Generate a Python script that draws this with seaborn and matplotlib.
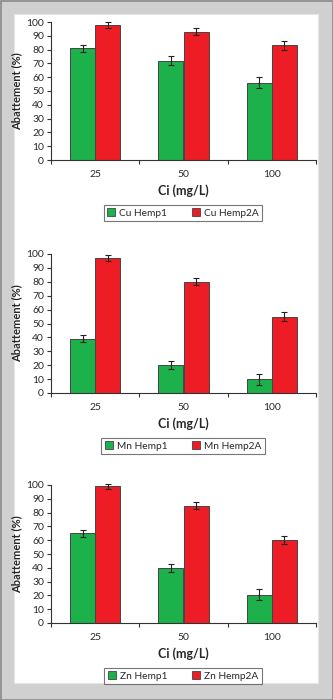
import numpy as np
import pandas as pd
import matplotlib
matplotlib.use("Agg")
import matplotlib.pyplot as plt
import seaborn as sns
from matplotlib.patches import Rectangle

sns.set_style("white")
plt.rcParams['font.family'] = ['Lato', 'DejaVu Sans']

concentrations = ["25", "50", "100"]
metals = ["Cu", "Mn", "Zn"]
hemp1 = {"Cu": [81, 72, 56], "Mn": [39, 20, 10], "Zn": [65, 40, 20.5]}
hemp2a = {"Cu": [98, 93, 83], "Mn": [97, 80, 55], "Zn": [99, 85, 60]}
err1 = {"Cu": [2.5, 3, 4], "Mn": [2.5, 3, 4], "Zn": [2.5, 3, 4]}
err2 = {"Cu": [2, 2.5, 3], "Mn": [2, 2.5, 3], "Zn": [2, 2.5, 3]}
y_ticks = list(range(0, 101, 10))

W, H = 333, 700
fig = plt.figure(figsize=(W / 100, H / 100), dpi=100)
fig.patch.set_facecolor("#d0d0d0")
# white panel
fig.add_artist(Rectangle((14 / W, 1 - 683 / H), (318 - 14) / W, (683 - 14) / H,
                         transform=fig.transFigure, facecolor="white", edgecolor="#e6e6e6",
                         lw=0.8, zorder=0))
fig.add_artist(Rectangle((0.5 / W, 0.5 / H), (W - 1) / W, (H - 1) / H,
                         transform=fig.transFigure, facecolor="none", edgecolor="#8a8a8a",
                         lw=1.2, zorder=0))

green = "#1db14b"
red = "#ee1c25"
panels = [(22, 160, 213), (254, 393, 446), (485, 623, 676)]
left, right = 51, 316

for metal, (top, bot, legy) in zip(metals, panels):
    ax = fig.add_axes([left / W, 1 - bot / H, (right - left) / W, (bot - top) / H])
    ax.set_facecolor("none")
    n1 = f"{metal} Hemp1"
    n2 = f"{metal} Hemp2A"
    df = pd.DataFrame({
        "Ci": concentrations * 2,
        "val": hemp1[metal] + hemp2a[metal],
        "err": err1[metal] + err2[metal],
        "series": [n1] * 3 + [n2] * 3,
    })
    sns.barplot(data=df, x="Ci", y="val", hue="series", order=concentrations,
                hue_order=[n1, n2], palette=[green, red], width=0.57,
                errorbar=None, edgecolor="#444444", linewidth=0.7, ax=ax,
                legend=False, saturation=1)
    # error bars on the bar patches
    for bars, errs in zip(ax.containers, [err1[metal], err2[metal]]):
        xs = [b.get_x() + b.get_width() / 2 for b in bars]
        ys = [b.get_height() for b in bars]
        ax.errorbar(xs, ys, yerr=errs, fmt="none", ecolor="#222222", elinewidth=0.8,
                    capsize=2, capthick=0.8, clip_on=False, zorder=5)
    ax.set_xlim(-0.5, 2.5)
    ax.set_ylim(0, 100)
    ax.set_yticks(y_ticks)
    ax.tick_params(axis="y", which="major", direction="out", length=3, width=0.8,
                   color="#333333", labelsize=7.5, pad=2, left=True, labelcolor="#2a2a2a")
    ax.set_xticks([0, 1, 2])
    ax.set_xticklabels(concentrations)
    ax.tick_params(axis="x", which="major", length=0, labelsize=7.5, pad=7, labelcolor="#2a2a2a")
    ax.set_xticks([-0.5, 0.5, 1.5, 2.5], minor=True)
    ax.tick_params(axis="x", which="minor", direction="out", length=3, width=0.8,
                   color="#333333", bottom=True)
    for s in ["top", "right"]:
        ax.spines[s].set_visible(False)
    for s in ["left", "bottom"]:
        ax.spines[s].set_color("#333333")
        ax.spines[s].set_linewidth(0.8)
    ax.set_ylabel("Abattement (%)", fontsize=8, fontweight="bold", labelpad=3)
    ax.set_xlabel("Ci (mg/L)", fontsize=9, fontweight="bold", labelpad=4)
    handles = [Rectangle((0, 0), 1, 1, facecolor=green, edgecolor="#444444", lw=0.6),
               Rectangle((0, 0), 1, 1, facecolor=red, edgecolor="#444444", lw=0.6)]
    leg = fig.legend(handles, [n1, n2], loc="center", ncol=2,
                     bbox_to_anchor=(183 / W, 1 - legy / H), bbox_transform=fig.transFigure,
                     fontsize=7.3, frameon=True, fancybox=False, edgecolor="#555555",
                     handlelength=0.8, handleheight=0.8, handletextpad=0.4,
                     columnspacing=2.4, borderpad=0.35)
    leg.get_frame().set_linewidth(0.8)

fig.savefig("out.png", dpi=100)
